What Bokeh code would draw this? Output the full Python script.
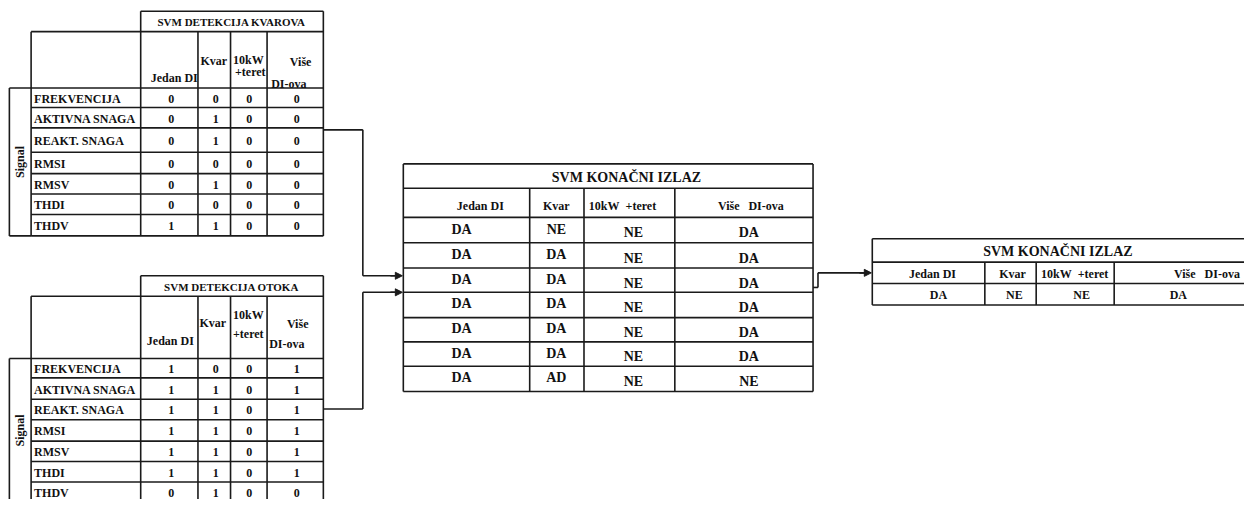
import math
from bokeh.plotting import figure
from bokeh.models import Range1d, Arrow, NormalHead, ColumnDataSource
from bokeh.core.properties import value
from bokeh.embed import file_html
from bokeh.resources import INLINE

# ---------------- data ----------------
signals = ["FREKVENCIJA", "AKTIVNA SNAGA", "REAKT. SNAGA", "RMSI", "RMSV", "THDI", "THDV"]

kvar_jedan = [0, 0, 0, 0, 0, 0, 1]
kvar_kvar = [0, 1, 1, 0, 1, 0, 1]
kvar_10kw = [0, 0, 0, 0, 0, 0, 0]
kvar_vise = [0, 0, 0, 0, 0, 0, 0]

otok_jedan = [1, 1, 1, 1, 1, 1, 0]
otok_kvar = [0, 1, 1, 1, 1, 1, 1]
otok_10kw = [0, 0, 0, 0, 0, 0, 0]
otok_vise = [1, 1, 1, 1, 1, 1, 0]

final_jedan = ["DA", "DA", "DA", "DA", "DA", "DA", "DA"]
final_kvar = ["NE", "DA", "DA", "DA", "DA", "DA", "AD"]
final_10kw = ["NE", "NE", "NE", "NE", "NE", "NE", "NE"]
final_vise = ["DA", "DA", "DA", "DA", "DA", "DA", "NE"]

out_values = ["DA", "NE", "NE", "DA"]
final_headers = ["Jedan DI", "Kvar", "10kW\u00a0\u00a0+teret", "Više\u00a0\u00a0\u00a0DI-ova"]

title_kvar = "SVM DETEKCIJA KVAROVA"
title_otok = "SVM DETEKCIJA OTOKA"
title_final = "SVM KONAČNI IZLAZ"

# ---------------- figure ----------------
W, H = 1244, 499
p = figure(width=W, height=H, output_backend="svg", toolbar_location=None,
           x_range=Range1d(0, 1260), y_range=Range1d(513, 0),
           min_border=0, border_fill_color="white", background_fill_color="white")
p.axis.visible = False
p.grid.visible = False
p.outline_line_color = None

FONT = value("Liberation Serif")
LC = "#1a1a1a"
LW = 1.6

seg_x, seg_y = [], []


def seg(x0, y0, x1, y1):
    seg_x.append([x0, x1])
    seg_y.append([y0, y1])


texts = {"x": [], "y": [], "t": [], "size": [], "align": [], "angle": []}


def txt(x, y, t, size=12, align="center", angle=0.0):
    texts["x"].append(x)
    texts["y"].append(y)
    texts["t"].append(str(t))
    texts["size"].append(f"{size}px")
    texts["align"].append(align)
    texts["angle"].append(angle)


# ---------------- left tables ----------------
def left_table(y_title_top, y_head_top, y_rows, title, cols, head_pos):
    xs = [31, 142, 200, 233, 270, 327]
    x_sig = 9
    seg(142, y_title_top, 327, y_title_top)
    seg(142, y_title_top, 142, y_head_top)
    seg(327, y_title_top, 327, y_rows[-1])
    txt(234, (y_title_top + y_head_top) / 2 + 1, title, 11)
    seg(31, y_head_top, 327, y_head_top)
    for x in xs[:-1]:
        seg(x, y_head_top, x, y_rows[-1])
    for y in y_rows:
        seg(31, y, 327, y)
    seg(x_sig, y_rows[0], 31, y_rows[0])
    seg(x_sig, y_rows[-1], 31, y_rows[-1])
    seg(x_sig, y_rows[0], x_sig, y_rows[-1])
    txt(20, (y_rows[0] + y_rows[-1]) / 2, "Signal", 12, "center", math.pi / 2)
    for (hx, hy, ht) in head_pos:
        txt(hx, hy, ht, 12)
    centers = [173, 218, 252, 300]
    for i, name in enumerate(signals):
        yc = (y_rows[i] + y_rows[i + 1]) / 2 + 1
        txt(34, yc, name, 12, "left")
        for c, col in enumerate(cols):
            txt(centers[c], yc, col[i], 12)


rows_top = [90, 110, 131, 156, 178, 199, 220, 242]
left_table(11, 32, rows_top, title_kvar,
           [kvar_jedan, kvar_kvar, kvar_10kw, kvar_vise],
           [(176, 80, "Jedan DI"), (216, 62, "Kvar"), (251, 61, "10kW"), (253, 73, "+teret"),
            (304, 63, "Više"), (292, 86, "DI-ova")])

rows_bot = [368, 388, 410, 431, 453, 474, 495, 516]
left_table(283, 304, rows_bot, title_otok,
           [otok_jedan, otok_kvar, otok_10kw, otok_vise],
           [(172, 350, "Jedan DI"), (215, 332, "Kvar"), (251, 323, "10kW"), (251, 343, "+teret"),
            (301, 333, "Više"), (290, 353, "DI-ova")])

# ---------------- middle table ----------------
mx = [408, 536, 591, 683, 823]
my = [168, 193, 223, 249, 275, 300, 326, 351, 376, 402]
seg(mx[0], my[0], mx[-1], my[0])
seg(mx[0], my[0], mx[0], my[-1])
seg(mx[-1], my[0], mx[-1], my[-1])
for y in my[1:]:
    seg(mx[0], y, mx[-1], y)
for x in mx[1:-1]:
    seg(x, my[1], x, my[-1])
txt(634, (my[0] + my[1]) / 2 + 1, title_final, 14)
head_x = [486, 563, 630, 760]
for c, h in enumerate(final_headers):
    txt(head_x[c], (my[1] + my[2]) / 2 + 3, h, 12)
val_x = [467, 563, 641, 758]
val_dy = [-1, -1, 3, 3]
for i in range(7):
    yc = (my[2 + i] + my[3 + i]) / 2
    for c, col in enumerate([final_jedan, final_kvar, final_10kw, final_vise]):
        txt(val_x[c], yc + val_dy[c], col[i], 14)

# ---------------- right table ----------------
rx = [883, 997, 1049, 1128, 1320]
ry = [245, 269, 291, 313]
for y in ry:
    seg(rx[0], y, rx[-1], y)
seg(rx[0], ry[0], rx[0], ry[-1])
for x in rx[1:-1]:
    seg(x, ry[1], x, ry[-1])
txt(1071, (ry[0] + ry[1]) / 2 + 1, title_final, 14)
rhead_x = [944, 1025, 1088, 1222]
for c, h in enumerate(final_headers):
    txt(rhead_x[c], (ry[1] + ry[2]) / 2 + 1, h, 12)
rval_x = [950, 1027, 1095, 1193]
for c, v in enumerate(out_values):
    txt(rval_x[c], (ry[2] + ry[3]) / 2 + 1, v, 12)

# ---------------- connectors ----------------
seg(327, 133, 367, 133)
seg(367, 133, 367, 283)
seg(367, 283, 400, 283)
seg(327, 420, 367, 420)
seg(367, 420, 367, 300)
seg(367, 300, 400, 300)
seg(823, 295, 828, 295)
seg(828, 295, 828, 280)
seg(828, 280, 876, 280)

p.multi_line(xs=seg_x, ys=seg_y, line_color=LC, line_width=LW)

for (x0, y0, x1, y1) in [(395, 283, 407, 283), (395, 300, 407, 300), (870, 280, 882, 280)]:
    p.add_layout(Arrow(end=NormalHead(size=7, fill_color=LC, line_color=LC, line_width=1),
                       x_start=x0, y_start=y0, x_end=x1, y_end=y1,
                       line_color=LC, line_width=LW))

for al in ["center", "left"]:
    idx = [i for i, a in enumerate(texts["align"]) if a == al]
    sub = ColumnDataSource({k: [texts[k][i] for i in idx] for k in texts})
    p.text(x="x", y="y", text="t", source=sub, text_font=FONT, text_font_style="bold",
           text_font_size="size", text_align=al, text_baseline="middle",
           angle="angle", text_color="#111111")

open("out.html", "w").write(file_html(p, INLINE))
